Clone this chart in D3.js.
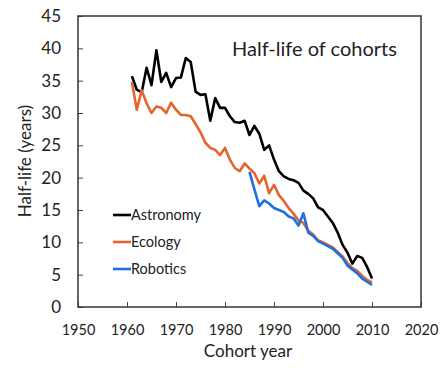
<!DOCTYPE html>
<html>
<head>
<meta charset="utf-8">
<script src="https://cdn.jsdelivr.net/npm/d3@7"></script>
<style>
  body { margin: 0; background: #fff; }
  svg { display: block; font-family: Lato, "Open Sans", sans-serif; }
</style>
</head>
<body>
<svg id="chart"></svg>
<script>
// Data (half-life in years per cohort year)
const astroYears = d3.range(1961, 2011);
const astroValues = [35.7, 33.6, 33.2, 37.0, 34.3, 39.7, 34.8, 36.2, 34.0, 35.4,
                     35.5, 38.5, 37.9, 33.3, 32.8, 32.9, 28.8, 32.3, 30.8, 30.8,
                     29.5, 28.6, 28.5, 28.8, 26.6, 28.0, 26.8, 24.3, 25.0, 22.8,
                     21.0, 20.2, 19.8, 19.6, 19.2, 18.0, 17.5, 16.8, 15.4, 15.0,
                     14.0, 13.0, 11.5, 9.6, 8.4, 6.7, 7.9, 7.6, 6.2, 4.4];
const ecoYears = d3.range(1961, 2011);
const ecoValues = [34.8, 30.5, 33.5, 31.5, 30.0, 31.0, 30.8, 30.0, 31.6, 30.5,
                   29.7, 29.7, 29.5, 28.3, 27.0, 25.4, 24.6, 24.3, 23.5, 24.6,
                   22.8, 21.5, 21.0, 22.2, 21.4, 20.7, 19.1, 20.3, 17.6, 18.9,
                   17.3, 16.4, 15.3, 14.4, 13.4, 13.0, 11.8, 11.2, 10.3, 10.0,
                   9.6, 9.2, 8.5, 7.8, 6.8, 6.0, 5.6, 4.8, 4.2, 3.8];
const roboYears = d3.range(1985, 2011);
const roboValues = [20.9, 18.2, 15.6, 16.5, 16.0, 15.3, 15.0, 14.7, 14.0, 13.7,
                    12.6, 14.5, 11.5, 11.0, 10.2, 9.8, 9.4, 9.0, 8.3, 7.6,
                    6.4, 5.8, 5.2, 4.4, 3.9, 3.4];

const xTicks = [1950, 1960, 1970, 1980, 1990, 2000, 2010, 2020];
const yTicks = [0, 5, 10, 15, 20, 25, 30, 35, 40, 45];

const series = [
  { name: 'Astronomy', color: '#000000', years: astroYears, values: astroValues },
  { name: 'Ecology', color: '#e4652e', years: ecoYears, values: ecoValues },
  { name: 'Robotics', color: '#1f6fe3', years: roboYears, values: roboValues }
];

const width = 446, height = 372;
const margin = { top: 16, right: 25, bottom: 65, left: 78 };
const plotW = width - margin.left - margin.right;
const plotH = height - margin.top - margin.bottom;

const svg = d3.select('#chart').attr('width', width).attr('height', height);
const g = svg.append('g').attr('transform', `translate(${margin.left},${margin.top})`);

const x = d3.scaleLinear().domain([1950, 2020]).range([0, plotW]);
const y = d3.scaleLinear().domain([0, 45]).range([plotH, 0]);

// Axes with inward ticks
const xAxis = g.append('g')
  .attr('transform', `translate(0,${plotH})`)
  .call(d3.axisBottom(x).tickValues(xTicks).tickFormat(d3.format('d'))
    .tickSizeInner(-5).tickSizeOuter(0).tickPadding(18));
xAxis.select('.domain').remove();
xAxis.selectAll('line').attr('stroke', '#444');
xAxis.selectAll('text').attr('font-size', 14.5).attr('fill', '#222')
  .attr('font-family', 'Lato, sans-serif');

const yAxis = g.append('g')
  .call(d3.axisLeft(y).tickValues(yTicks)
    .tickSizeInner(-5).tickSizeOuter(0).tickPadding(17));
yAxis.select('.domain').remove();
yAxis.selectAll('line').attr('stroke', '#444');
yAxis.selectAll('text').attr('font-size', 17).attr('fill', '#222')
  .attr('font-family', 'Lato, sans-serif');

// Plot frame
g.append('rect')
  .attr('width', plotW).attr('height', plotH)
  .attr('fill', 'none').attr('stroke', '#333').attr('stroke-width', 1.5);

// Lines
const line = d3.line()
  .x(d => x(d[0]))
  .y(d => y(d[1]));

g.selectAll('.series')
  .data(series)
  .enter()
  .append('path')
  .attr('class', 'series')
  .attr('d', s => line(s.years.map((yr, i) => [yr, s.values[i]])))
  .attr('fill', 'none')
  .attr('stroke', s => s.color)
  .attr('stroke-width', 2.6)
  .attr('stroke-linejoin', 'round');

// Title
g.append('text')
  .attr('x', 232 - margin.left)
  .attr('y', 56 - margin.top)
  .attr('font-size', 20)
  .attr('fill', '#222')
  .text('Half-life of cohorts');

// Legend
const legend = g.selectAll('.legend')
  .data(series)
  .enter()
  .append('g')
  .attr('class', 'legend')
  .attr('transform', (d, i) => `translate(${113 - margin.left},${215 - margin.top + i * 27})`);
legend.append('line')
  .attr('x1', 0).attr('x2', 18)
  .attr('stroke', d => d.color).attr('stroke-width', 2.6);
legend.append('text')
  .attr('x', 18).attr('dy', '0.35em')
  .attr('font-size', 14.5).attr('fill', '#222')
  .text(d => d.name);

// Axis titles
svg.append('text')
  .attr('x', 248).attr('y', 357)
  .attr('text-anchor', 'middle')
  .attr('font-size', 17).attr('fill', '#222')
  .text('Cohort year');
svg.append('text')
  .attr('transform', 'translate(31,161) rotate(-90)')
  .attr('text-anchor', 'middle')
  .attr('font-size', 17).attr('fill', '#222')
  .text('Half-life (years)');
</script>
</body>
</html>
